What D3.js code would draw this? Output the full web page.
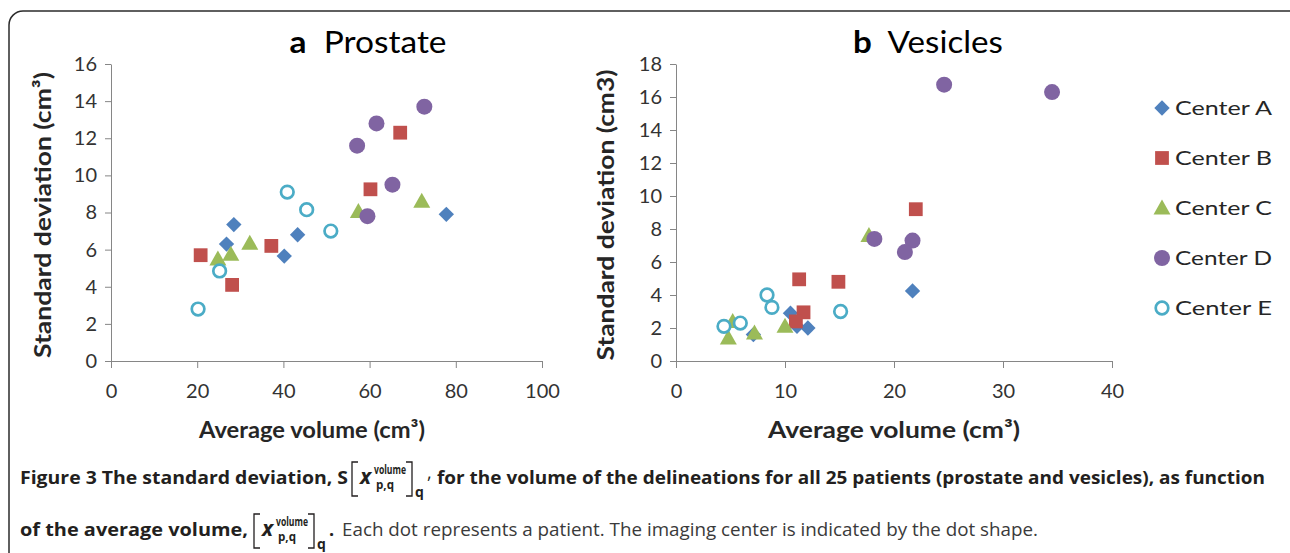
<html>
<head>
<script src="https://d3js.org/d3.v7.min.js"></script>
<style>
  body { margin: 0; background: #fff; }
  svg text { font-family: Lato, "Open Sans", sans-serif; }
</style>
</head>
<body>
<svg id="fig" width="1290" height="553"></svg>
<script>
// values: [average volume, standard deviation]
var centers = ["Center A", "Center B", "Center C", "Center D", "Center E"];

var prostateA = [[28.5, 7.35], [26.8, 6.3], [40.2, 5.65], [43.3, 6.8], [77.8, 7.9]];
var prostateB = [[20.8, 5.7], [28.1, 4.1], [37.2, 6.2], [60.2, 9.25], [67.1, 12.3]];
var prostateC = [[24.8, 5.5], [27.8, 5.75], [32.2, 6.35], [57.4, 8.05], [72.1, 8.6]];
var prostateD = [[57.1, 11.6], [61.6, 12.8], [72.7, 13.7], [65.3, 9.5], [59.5, 7.8]];
var prostateE = [[20.2, 2.8], [25.2, 4.85], [40.9, 9.1], [45.4, 8.15], [51.0, 7.0]];

var vesiclesA = [[10.5, 2.9], [11.1, 2.1], [12.1, 2.0], [7.1, 1.6], [21.7, 4.25]];
var vesiclesB = [[11.3, 4.95], [14.9, 4.8], [11.7, 2.95], [11.0, 2.4], [22.0, 9.2]];
var vesiclesC = [[4.8, 1.4], [5.2, 2.4], [7.2, 1.7], [10.0, 2.1], [17.7, 7.6]];
var vesiclesD = [[24.6, 16.75], [34.5, 16.3], [18.2, 7.4], [21.7, 7.3], [21.0, 6.6]];
var vesiclesE = [[4.4, 2.1], [5.9, 2.3], [8.35, 4.0], [8.8, 3.25], [15.1, 3.0]];

var prostateXTicks = [0, 20, 40, 60, 80, 100];
var prostateYTicks = [0, 2, 4, 6, 8, 10, 12, 14, 16];
var vesiclesXTicks = [0, 10, 20, 30, 40];
var vesiclesYTicks = [0, 2, 4, 6, 8, 10, 12, 14, 16, 18];

var colors = ["#4f81bd", "#c0504d", "#9bbb59", "#8064a2", "#4bacc6"];

var svg = d3.select("#fig");

// frame round the figure
svg.append("rect")
    .attr("x", 9).attr("y", 11)
    .attr("width", 1300).attr("height", 600)
    .attr("rx", 14)
    .attr("fill", "none")
    .attr("stroke", "#2b2b2b")
    .attr("stroke-width", 1.5);

// marker for each center
function drawMarker(g, i, x, y) {
    if (i == 0) {
        g.append("path")
            .attr("d", d3.symbol().type(d3.symbolSquare).size(118)())
            .attr("transform", "translate(" + x + "," + y + ") rotate(45)")
            .attr("fill", colors[i]);
    } else if (i == 1) {
        g.append("path")
            .attr("d", d3.symbol().type(d3.symbolSquare).size(190)())
            .attr("transform", "translate(" + x + "," + y + ")")
            .attr("fill", colors[i]);
    } else if (i == 2) {
        g.append("path")
            .attr("d", "M0,-8.5L8.5,6.5L-8.5,6.5Z")
            .attr("transform", "translate(" + x + "," + y + ")")
            .attr("fill", colors[i]);
    } else if (i == 3) {
        g.append("circle")
            .attr("cx", x).attr("cy", y).attr("r", 8)
            .attr("fill", colors[i]);
    } else {
        g.append("circle")
            .attr("cx", x).attr("cy", y).attr("r", 6.3)
            .attr("fill", "#fff")
            .attr("stroke", colors[i])
            .attr("stroke-width", 2.7);
    }
}

function panel(opt) {
    var x = d3.scaleLinear().domain(opt.xDomain).range(opt.xRange);
    var y = d3.scaleLinear().domain(opt.yDomain).range([361, 64]);
    var g = svg.append("g");

    var xAxis = g.append("g")
        .attr("transform", "translate(0,361)")
        .call(d3.axisBottom(x).tickValues(opt.xTicks).tickSize(7).tickPadding(16).tickSizeOuter(0));
    var yAxis = g.append("g")
        .attr("transform", "translate(" + opt.xRange[0] + ",0)")
        .call(d3.axisLeft(y).tickValues(opt.yTicks).tickSize(6).tickPadding(8).tickSizeOuter(0));
    [xAxis, yAxis].forEach(function (a) {
        a.selectAll("path, line").attr("stroke", "#868686");
        a.selectAll("text")
            .attr("fill", "#333")
            .style("font-size", "20px")
            .style("font-family", "Lato, sans-serif");
    });

    opt.series.forEach(function (pts, i) {
        pts.forEach(function (p) {
            drawMarker(g, i, x(p[0]), y(p[1]));
        });
    });

    // panel title
    var t = g.append("text")
        .attr("x", opt.titleX).attr("y", 53)
        .attr("text-anchor", "middle")
        .attr("textLength", opt.titleLen)
        .attr("lengthAdjust", "spacingAndGlyphs")
        .style("font-size", "30px")
        .attr("fill", "#000");
    t.append("tspan").style("font-weight", "bold").text(opt.letter);
    t.append("tspan").text("\u00a0 " + opt.name);

    g.append("text")
        .attr("x", opt.xTitleX).attr("y", 438)
        .attr("text-anchor", "middle")
        .attr("textLength", opt.xTitleLen)
        .attr("lengthAdjust", "spacingAndGlyphs")
        .style("font-size", "23px").style("font-weight", "bold")
        .attr("fill", "#262626")
        .text("Average volume (cm\u00b3)");

    g.append("text")
        .attr("transform", "translate(" + opt.yTitleX + ",215) rotate(-90)")
        .attr("text-anchor", "middle")
        .attr("textLength", opt.yTitleLen)
        .attr("lengthAdjust", "spacingAndGlyphs")
        .style("font-size", "23px").style("font-weight", "bold")
        .attr("fill", "#262626")
        .text(opt.yTitle);
}

panel({
    xDomain: [0, 100], xRange: [111, 542], yDomain: [0, 16],
    xTicks: prostateXTicks, yTicks: prostateYTicks,
    series: [prostateA, prostateB, prostateC, prostateD, prostateE],
    letter: "a", name: "Prostate", titleX: 368, titleLen: 157,
    xTitleX: 312, xTitleLen: 226,
    yTitleX: 51, yTitleLen: 286, yTitle: "Standard deviation (cm\u00b3)"
});

panel({
    xDomain: [0, 40], xRange: [676, 1112], yDomain: [0, 18],
    xTicks: vesiclesXTicks, yTicks: vesiclesYTicks,
    series: [vesiclesA, vesiclesB, vesiclesC, vesiclesD, vesiclesE],
    letter: "b", name: "Vesicles", titleX: 928, titleLen: 150,
    xTitleX: 894, xTitleLen: 252,
    yTitleX: 614, yTitleLen: 291, yTitle: "Standard deviation (cm3)"
});

// legend
var legend = svg.append("g");
centers.forEach(function (c, i) {
    var ly = 108 + i * 50;
    drawMarker(legend, i, 1162, ly);
    legend.append("text")
        .attr("x", 1175).attr("y", ly + 7)
        .attr("textLength", 97)
        .attr("lengthAdjust", "spacingAndGlyphs")
        .style("font-size", "20px")
        .attr("fill", "#262626")
        .text(c);
});

// caption
var cap = svg.append("g");
function capText(x, y, str, len, bold, size, fill) {
    var t = cap.append("text")
        .attr("x", x).attr("y", y)
        .style("font-size", (size || 18) + "px")
        .style("font-family", "'Open Sans', sans-serif")
        .style("font-weight", bold ? "bold" : "normal")
        .attr("fill", fill || "#231f20")
        .text(str);
    if (len) t.attr("textLength", len).attr("lengthAdjust", "spacingAndGlyphs");
    return t;
}
function bracketTerm(x0, base) {
    // [ x^volume_p,q ]_q
    cap.append("path")
        .attr("d", "M" + (x0 + 6) + "," + (base - 22) + "H" + x0 + "V" + (base + 12) + "H" + (x0 + 6))
        .attr("fill", "none").attr("stroke", "#231f20").attr("stroke-width", 1.3);
    capText(x0 + 8, base, "x", null, true, 21).style("font-style", "italic");
    capText(x0 + 22, base - 10, "volume", 32, true, 12);
    capText(x0 + 24, base + 5, "p,q", 18, true, 12);
    cap.append("path")
        .attr("d", "M" + (x0 + 54) + "," + (base - 22) + "H" + (x0 + 60) + "V" + (base + 12) + "H" + (x0 + 54))
        .attr("fill", "none").attr("stroke", "#231f20").attr("stroke-width", 1.3);
    capText(x0 + 63, base + 13, "q", null, true, 14);
}

capText(20, 484, "Figure 3 The standard deviation, S", 328, true);
bracketTerm(352, 484);
capText(427, 479, ",", null, false, 18);
capText(437, 484, "for the volume of the delineations for all 25 patients (prostate and vesicles), as function", 828, true);

capText(20, 536, "of the average volume,", 228, true);
bracketTerm(254, 536);
capText(329, 536, ".", null, true, 18);
capText(342, 536, "Each dot represents a patient. The imaging center is indicated by the dot shape.", 696, false, 18, "#3a3a3a");
</script>
</body>
</html>
